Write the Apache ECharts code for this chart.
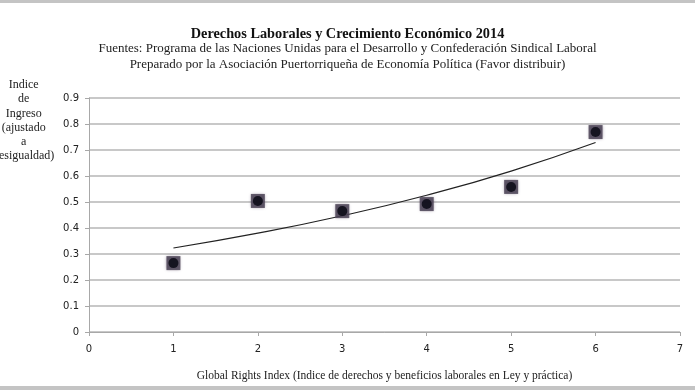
<!DOCTYPE html>
<html><head><meta charset="utf-8">
<script src="https://cdn.jsdelivr.net/npm/echarts@6/dist/echarts.min.js"></script>
<style>html,body{margin:0;padding:0;background:#fff;}#c{width:695px;height:390px;}</style>
</head><body><div id="c"></div>
<script>
const xValues = [1, 2, 3, 4, 5, 6];
const yValues = [0.265, 0.504, 0.465, 0.492, 0.558, 0.769];
const trendValues = [0.323, 0.380, 0.447, 0.526, 0.619, 0.729];
const xTicks = [0, 1, 2, 3, 4, 5, 6, 7];
const yTicks = [0, 0.1, 0.2, 0.3, 0.4, 0.5, 0.6, 0.7, 0.8, 0.9];
const titleText = 'Derechos Laborales y Crecimiento Económico 2014';
const subText = 'Fuentes: Programa de las Naciones Unidas para el Desarrollo y Confederación Sindical Laboral\nPreparado por la Asociación Puertorriqueña de Economía Política (Favor distribuir)';
const yName = 'Indice\nde\nIngreso\n(ajustado\na\ndesigualdad)';
const xName = 'Global Rights Index (Indice de derechos y beneficios laborales en Ley y práctica)';

const points = xValues.map((x, i) => [x, yValues[i]]);
const trend = xValues.map((x, i) => [x, trendValues[i]]);
const serif = '"Liberation Serif", "DejaVu Serif", serif';
const chart = echarts.init(document.getElementById('c'));
chart.setOption({
  animation: false,
  backgroundColor: '#fff',
  title: {
    text: titleText, subtext: subText, left: 'center', top: 22, itemGap: 0,
    textStyle: {fontFamily: serif, fontSize: 14.3, fontWeight: 'bold', color: '#111'},
    subtextStyle: {fontFamily: serif, fontSize: 13, color: '#222', lineHeight: 16, align: 'center'}
  },
  graphic: [
    {type: 'rect', shape: {x: 0, y: 0, width: 695, height: 3}, style: {fill: '#c4c4c4'}},
    {type: 'rect', shape: {x: 0, y: 386, width: 695, height: 4}, style: {fill: '#c4c4c4'}},
    {type: 'text', left: -7, top: 78, style: {text: yName, font: '12px ' + serif, fill: '#222', textAlign: 'center', lineHeight: 14.2, x: 0}}
  ],
  grid: {left: 89, right: 15, top: 98, bottom: 58},
  xAxis: {
    type: 'value', min: 0, max: 7, interval: 1,
    name: xName, nameLocation: 'middle', nameGap: 38,
    nameTextStyle: {fontFamily: serif, fontSize: 11.5, color: '#222'},
    axisLine: {show: true, lineStyle: {color: '#a8a8a8', width: 1}},
    axisTick: {show: true, length: 4, lineStyle: {color: '#a8a8a8'}},
    axisLabel: {color: '#222', fontSize: 10, fontFamily: '"DejaVu Sans", sans-serif', margin: 12, formatter: v => xTicks.includes(v) ? String(v) : ''},
    splitLine: {show: false}
  },
  yAxis: {
    type: 'value', min: 0, max: 0.9, interval: 0.1,
    axisLine: {show: true, lineStyle: {color: '#a8a8a8', width: 1}},
    axisTick: {show: true, length: 4, lineStyle: {color: '#a8a8a8'}},
    axisLabel: {color: '#222', fontSize: 10, fontFamily: '"DejaVu Sans", sans-serif', margin: 10,
      formatter: v => { const t = yTicks.find(k => Math.abs(k - v) < 1e-9); return t === undefined ? '' : (t === 0 ? '0' : t.toFixed(1)); }},
    splitLine: {show: true, lineStyle: {color: '#c8c8c8', width: 2}}
  },
  series: [
    {type: 'line', data: trend, smooth: true, symbol: 'none', lineStyle: {color: '#222', width: 1.2}, z: 2},
    {type: 'scatter', data: points, symbol: 'rect', symbolSize: 14,
      itemStyle: {color: '#4a4255', opacity: 0.85, shadowBlur: 3, shadowColor: 'rgba(80,60,90,0.6)'}, z: 3},
    {type: 'scatter', data: points, symbol: 'circle', symbolSize: 10, itemStyle: {color: '#050510'}, z: 4}
  ]
});
</script></body></html>
